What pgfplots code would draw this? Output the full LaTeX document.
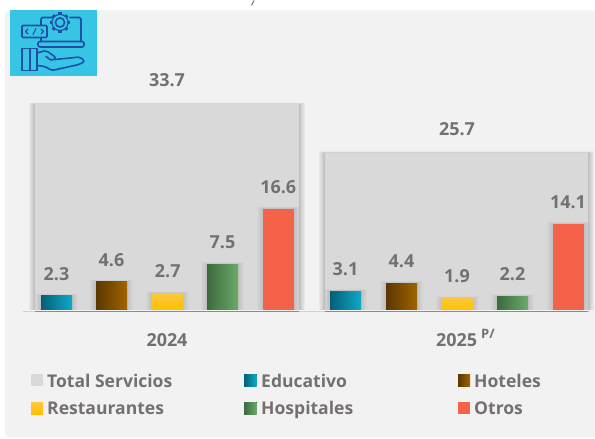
\documentclass[border=0pt]{standalone}
\usepackage{fontspec}
\setmainfont{Open Sans}
\usepackage{pgfplots}
\pgfplotsset{compat=1.18}
\definecolor{panel}{HTML}{F2F2F2}
\definecolor{totalbar}{HTML}{D9D9D9}
\definecolor{txt}{HTML}{757070}
\definecolor{edua}{HTML}{045F78}
\definecolor{edub}{HTML}{0FA9C9}
\definecolor{hota}{HTML}{5A3700}
\definecolor{hotb}{HTML}{A06400}
\definecolor{resa}{HTML}{FFC000}
\definecolor{resb}{HTML}{FFC73C}
\definecolor{hosa}{HTML}{3C6A3C}
\definecolor{hosb}{HTML}{6BAA6B}
\definecolor{otros}{HTML}{F4624A}
\definecolor{iconbg}{HTML}{36C5E5}
\definecolor{iconln}{HTML}{1F4EA5}
\tikzset{
  num/.style={font=\bfseries\fontsize{18}{20}\selectfont,text=txt,inner sep=0pt},
  lab/.style={font=\bfseries\fontsize{17.6}{20}\selectfont,text=txt,inner sep=0pt,anchor=base west},
  ic/.style={draw=iconln,line width=1.6pt,line join=round,line cap=round},
  px/.style={x=1bp,y=-1bp,yshift=438bp},
}
% soft shadow round a bar: centre, half width, value, opacity per layer, value step per layer
\newcommand{\softbar}[5]{%
  \pgfplotsinvokeforeach{1,2,3,4,5,6}{%
    \fill[black,opacity=#4] (axis cs:#1-#2-##1,0) rectangle (axis cs:#1+#2+##1,#3+##1*#5);}}
% one small bar: x position, value, options
\newcommand{\onebar}[3]{%
  \softbar{#1}{15.5}{#2}{0.016}{0.06}
  \addplot[ybar,bar shift=0pt,bar width=31,draw=none,#3,
    nodes near coords,point meta=y,
    every node near coord/.append style={num,anchor=center,yshift=22bp,
      /pgf/number format/.cd,fixed,fixed zerofill,precision=1,assume math mode=true}]
    coordinates {(#1,#2)};}
\begin{document}
\begin{tikzpicture}[x=1bp,y=1bp]
% background
\begin{scope}[px]
\fill[white] (0,0) rectangle (595,438);
\fill[panel,rounded corners=6pt] (595,10) -- (5,10) -- (5,437) -- (595,437);
\end{scope}

\begin{axis}[
  anchor=south west, at={(0,0)},
  width=595bp, height=438bp, scale only axis,
  xmin=0, xmax=595, ymin=-21.07, ymax=50.74,
  axis lines=none, clip=false,
  ]
% totals
\softbar{167}{132}{33.7}{0.035}{0.05}
\softbar{456.5}{131.5}{25.7}{0.035}{0.05}
\addplot[ybar,bar shift=0pt,bar width=264,fill=totalbar,draw=none] coordinates {(167,33.7)};
\addplot[ybar,bar shift=0pt,bar width=263,fill=totalbar,draw=none] coordinates {(456.5,25.7)};

% 2024
\onebar{56.5}{2.3}{left color=edua,right color=edub}
\onebar{111.5}{4.6}{left color=hota,right color=hotb}
\onebar{167.7}{2.7}{top color=resb,bottom color=resa}
\onebar{222.5}{7.5}{left color=hosa,right color=hosb}
\onebar{278.3}{16.6}{fill=otros}
% 2025
\onebar{345.5}{3.1}{left color=edua,right color=edub}
\onebar{401.5}{4.4}{left color=hota,right color=hotb}
\onebar{457}{1.9}{top color=resb,bottom color=resa}
\onebar{512.5}{2.2}{left color=hosa,right color=hosb}
\onebar{568}{14.1}{fill=otros}
\end{axis}

\begin{scope}[px]
% baselines
\fill[panel] (5,310.5) rectangle (595,320);
\draw[black!18,line width=1pt] (23,311) -- (590,311);
\draw[black!45,line width=1pt] (35,311.5) -- (299,311.5);
\draw[black!45,line width=1pt] (325,311.5) -- (588,311.5);

% total labels
\node[num] at (167,80) {33.7};
\node[num] at (457,129) {25.7};

% category labels
\node[num,anchor=base] at (167,346) {2024};
\node[num,anchor=base] at (456.5,346) {2025};
\node[num,anchor=base west,font=\bfseries\fontsize{13}{15}\selectfont] at (481,338) {P/};

% legend
\fill[totalbar] (31,374) rectangle (43,386);
\fill[left color=edua,right color=edub] (244,374) rectangle (256.5,386);
\fill[left color=hota,right color=hotb] (458,374) rectangle (470,386);
\fill[top color=resb,bottom color=resa] (31,402) rectangle (43,414);
\fill[left color=hosa,right color=hosb] (244,402) rectangle (256.5,414);
\fill[otros] (458,402) rectangle (470,414);
\node[lab] at (47,386.7) {Total Servicios};
\node[lab] at (261,386.7) {Educativo};
\node[lab] at (474,386.7) {Hoteles};
\node[lab] at (47,414) {Restaurantes};
\node[lab] at (261,414) {Hospitales};
\node[lab] at (474,414) {Otros};

% cropped stroke at the top edge
\draw[txt,line width=1pt] (254,0) -- (251.5,5);

% icon
\fill[iconbg] (10,10) rectangle (97,76);
\draw[ic,rounded corners=1.5pt] (41,25) -- (41,17) -- (52,17);
\draw[ic,rounded corners=1.5pt] (70,17) -- (81,17) -- (81,41);
\draw[ic] (41,37) -- (41,41);
\draw[ic,rounded corners=2pt] (38,41) rectangle (84,46.5);
\draw[ic,rounded corners=1pt,fill=iconbg] (22,25) rectangle (47,37);
\draw[ic,line width=1.1pt] (28,28.5) -- (25.5,31) -- (28,33.5);
\draw[ic,line width=1.1pt] (41,28.5) -- (43.5,31) -- (41,33.5);
\draw[ic,line width=1.1pt] (36,28) -- (33,34);
\draw[ic,fill=iconbg] (60,22) circle (7.8);
\foreach \a in {0,45,...,315}
  \fill[iconln] (60,22) ++(\a:7.2) ++(\a+90:1.6) -- ++(\a:3) -- ++(\a-90:3.2) -- ++(\a:-3) -- cycle;
\draw[ic,draw=iconbg,line width=0.9pt] (60,22) circle (6.9);
\draw[ic] (60,22) circle (4.6);
\draw[ic] (22,48) rectangle (37,70);
\draw[ic] (30,48) -- (30,70);
\draw[ic,rounded corners=2pt] (37,52.5) -- (46,50) -- (56,57) -- (52,60.5) -- (46,56);
\draw[ic,rounded corners=2.5pt] (55,59) -- (80,56.5) -- (85,61) -- (79,64) -- (52,70) -- (45,66) -- (37,65);
\end{scope}
\end{tikzpicture}
\end{document}
